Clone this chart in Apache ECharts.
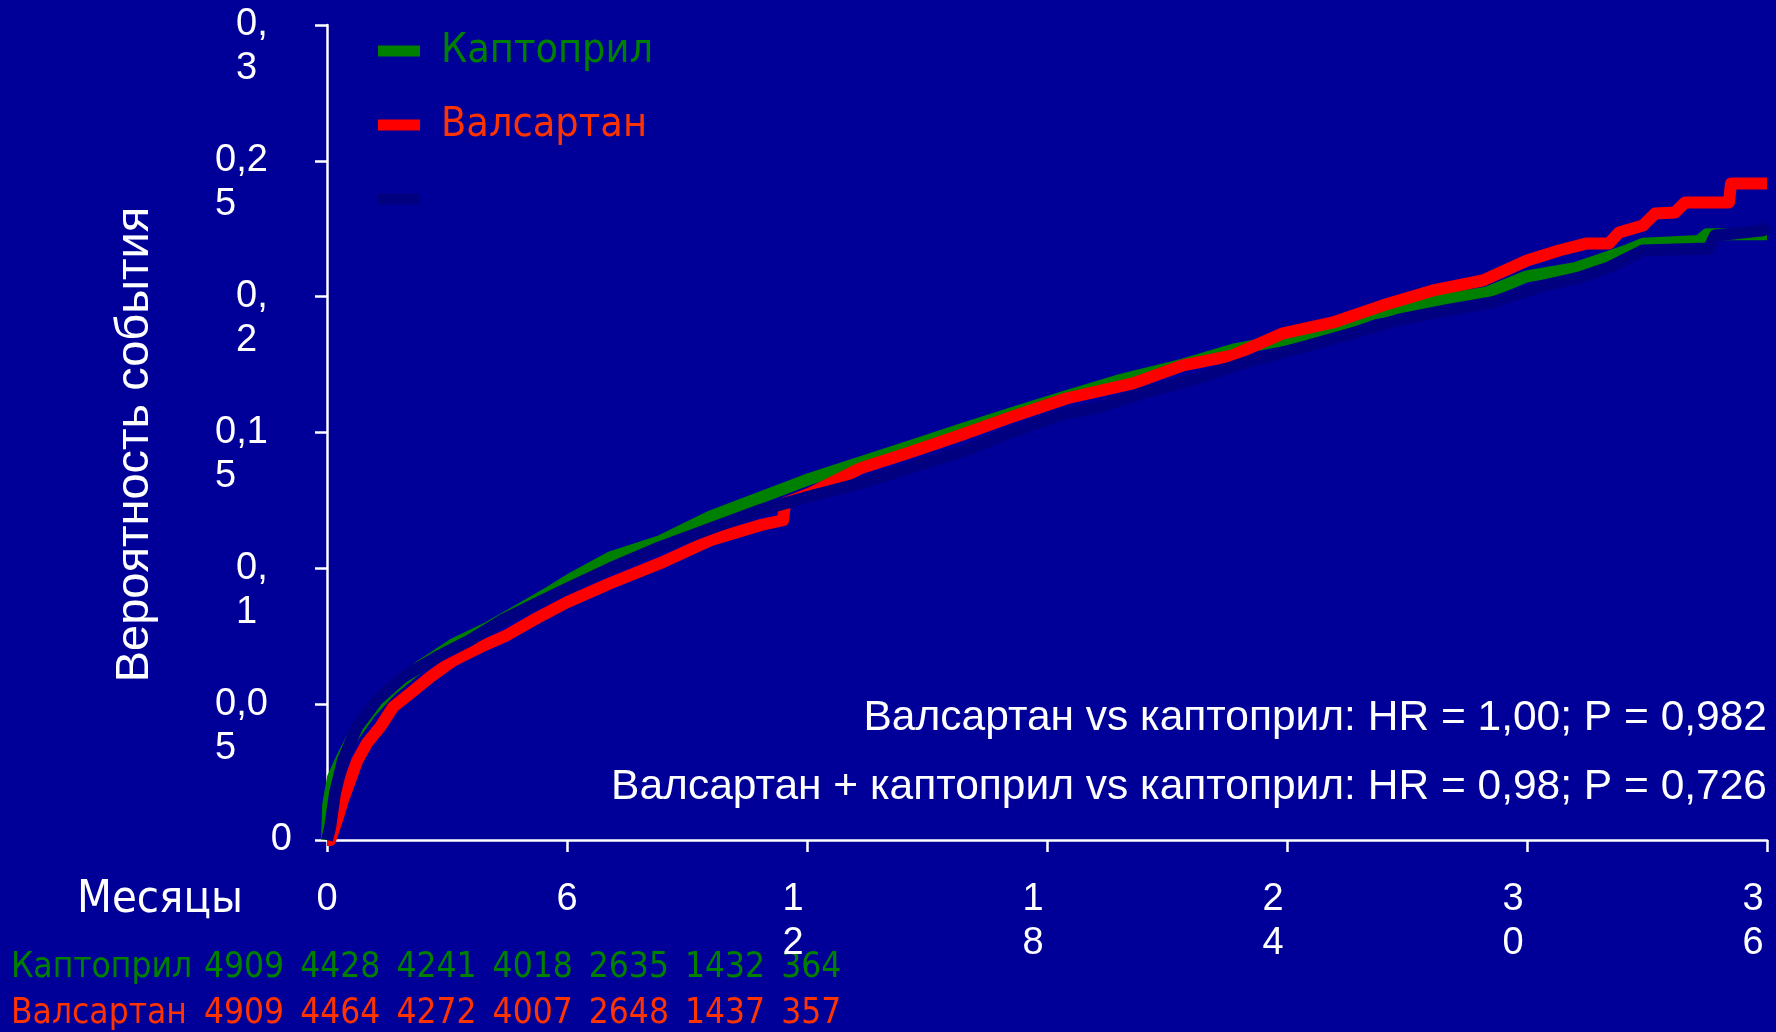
<!DOCTYPE html>
<html>
<head>
<meta charset="utf-8">
<script src="https://cdn.jsdelivr.net/npm/echarts@6/dist/echarts.min.js"></script>
<style>
html,body{margin:0;padding:0;background:#000099;}
#chart{width:1776px;height:1032px;}
</style>
</head>
<body>
<div id="chart"></div>
<script>
// ---------- DATA ----------
const seriesNames = ['Каптоприл', 'Валсартан', 'Валсартан + каптоприл'];

// [month, probability]
const captopril = [[0,0],[0.03,0.013],[0.15,0.023],[0.4,0.031],[0.65,0.038],[1.08,0.047],[1.58,0.055],[2.33,0.064],[3.15,0.072],[4.0,0.078],[4.83,0.085],[5.65,0.092],[6.08,0.096],[7.08,0.104],[8.33,0.110],[9.58,0.119],[10.83,0.126],[12.08,0.133],[13.33,0.139],[14.58,0.145],[15.83,0.151],[17.1,0.157],[18.4,0.163],[19.75,0.169],[21.4,0.175],[22.65,0.1805],[23.9,0.184],[25.15,0.1885],[26.2,0.194],[26.8,0.1955],[27.9,0.199],[29.0,0.2015],[30.0,0.2075],[31.2,0.2105],[31.9,0.214],[32.5,0.217],[32.9,0.2195],[34.3,0.2205],[34.5,0.223],[36,0.223]];

const valsartan = [[0,0],[0.08,0.0],[0.25,0.0074],[0.4,0.0147],[0.58,0.022],[0.75,0.029],[1.0,0.0357],[1.33,0.0416],[1.65,0.0489],[2.08,0.054],[2.58,0.060],[3.15,0.066],[3.83,0.071],[4.5,0.0754],[5.25,0.0817],[6.0,0.0875],[7.08,0.0945],[8.33,0.1019],[9.58,0.1103],[10.83,0.1159],[11.4,0.1177],[11.45,0.124],[12.08,0.1276],[13.33,0.1368],[14.58,0.1427],[15.83,0.149],[17.08,0.1556],[18.5,0.1626],[20.15,0.1681],[21.4,0.1747],[22.65,0.1784],[23.9,0.1865],[25.15,0.1905],[26.4,0.1968],[27.65,0.2023],[28.9,0.206],[30.0,0.2133],[30.8,0.217],[31.5,0.2196],[32.05,0.2196],[32.3,0.2236],[32.9,0.2262],[33.2,0.2306],[33.7,0.231],[33.95,0.2347],[35.05,0.2347],[35.1,0.2417],[36.0,0.2417]];

const combination = [[0,0],[0.08,0.0048],[0.2,0.0173],[0.4,0.0294],[0.75,0.0416],[1.25,0.0515],[1.9,0.060],[2.75,0.0673],[3.58,0.0736],[4.4,0.081],[5.25,0.0872],[6.0,0.0925],[7.08,0.100],[8.33,0.1078],[9.58,0.1146],[10.83,0.1214],[12.08,0.1265],[13.33,0.1313],[14.58,0.137],[15.83,0.1427],[17.08,0.150],[18.33,0.1565],[19.3,0.1593],[20.5,0.165],[21.8,0.170],[23.0,0.176],[24.3,0.181],[25.5,0.186],[26.8,0.1915],[28.0,0.195],[29.15,0.198],[30.4,0.204],[31.3,0.207],[32.05,0.2108],[32.9,0.217],[34.55,0.2177],[34.7,0.2225],[35.9,0.2244],[36,0.2265]];

const xTickLabels = ['0', '6', '1\n2', '1\n8', '2\n4', '3\n0', '3\n6'];
const yTickLabels = ['0', '0,0\n5', '0,\n1', '0,1\n5', '0,\n2', '0,2\n5', '0,\n3'];

const riskRowLabels = ['Каптоприл', 'Валсартан'];
const riskCaptopril = [4909, 4428, 4241, 4018, 2635, 1432, 364];
const riskValsartan = [4909, 4464, 4272, 4007, 2648, 1437, 357];

const yAxisTitle = 'Вероятность события';
const xAxisTitle = 'Месяцы';
const notes = ['Валсартан vs каптоприл: HR = 1,00; P = 0,982',
               'Валсартан + каптоприл vs каптоприл: HR = 0,98; P = 0,726'];

// ---------- STYLE ----------
const BG = '#000099';
const colors = ['#008000', '#FF0000', '#000080'];
const textColors = ['#008000', '#FF3300'];
const SANS = '"Liberation Sans", Arial, sans-serif';
const COND = '"DejaVu Sans Condensed", "DejaVu Sans", sans-serif';

const chart = echarts.init(document.getElementById('chart'), null, {renderer: 'canvas'});

function yLabel(v, idx) {
  const s = yTickLabels[idx];
  if (s === undefined) return '';
  const lines = s.split('\n');
  if (lines.length === 1) return '{z|' + lines[0] + '}';
  const st = lines[0].length > 2 ? 'w' : 'n';
  return '{' + st + '|}\n{' + st + '|' + lines[0] + '}\n{' + st + '|' + lines[1] + '}';
}

function xLabel(v) {
  const s = xTickLabels[Math.round(v / 6)];
  if (s === undefined) return '';
  const lines = s.split('\n');
  if (lines.length === 1) return '{s|' + s + '}';
  return lines.map(l => '{m|' + l + '}').join('\n');
}

const riskGraphics = [];
[riskCaptopril, riskValsartan].forEach((row, r) => {
  const y = 968 + r * 46;
  riskGraphics.push({
    type: 'text', x: 11, y: y,
    style: {text: riskRowLabels[r], fill: textColors[r], font: '35px ' + COND, verticalAlign: 'middle'}
  });
  row.forEach((n, i) => {
    riskGraphics.push({
      type: 'text', x: 204 + i * 96.2, y: y,
      style: {text: String(n), fill: textColors[r], font: '35px ' + COND, verticalAlign: 'middle'}
    });
  });
});

const labelStyle = {color: '#ffffff', fontFamily: SANS, fontSize: 38, lineHeight: 44};

const option = {
  backgroundColor: BG,
  animation: false,
  grid: {left: 327, right: 9, top: 25, bottom: 192, containLabel: false, outerBoundsMode: 'none'},
  legend: {
    orient: 'vertical',
    left: 373, top: 21,
    itemWidth: 42, itemHeight: 11, itemGap: 24,
    icon: 'rect',
    textStyle: {fontFamily: COND, fontSize: 41, lineHeight: 50, padding: [0, 0, 0, 16]},
    formatter: function (name) { return name === seriesNames[2] ? ' ' : name; },
    data: [
      {name: seriesNames[0], textStyle: {color: textColors[0]}},
      {name: seriesNames[1], textStyle: {color: textColors[1]}},
      {name: seriesNames[2], textStyle: {color: BG}}
    ]
  },
  xAxis: {
    type: 'value', min: 0, max: 36, interval: 6,
    axisLine: {show: true, lineStyle: {color: '#ffffff', width: 2.5}},
    axisTick: {show: true, length: 12, lineStyle: {color: '#ffffff', width: 2.5}},
    splitLine: {show: false},
    axisLabel: {
      color: '#ffffff', fontFamily: SANS, fontSize: 38, lineHeight: 44, margin: 38,
      formatter: xLabel,
      rich: {
        s: Object.assign({}, labelStyle),
        m: Object.assign({width: 49, align: 'left'}, labelStyle)
      }
    }
  },
  yAxis: {
    type: 'value', min: 0, max: 0.3, interval: 0.05,
    name: yAxisTitle, nameLocation: 'middle', nameRotate: 90, nameGap: 168,
    nameTextStyle: {color: '#ffffff', fontFamily: SANS, fontSize: 47, padding: [0, 24, 0, 0]},
    axisLine: {show: true, lineStyle: {color: '#ffffff', width: 2.5}},
    axisTick: {show: true, length: 12, lineStyle: {color: '#ffffff', width: 2.5}},
    splitLine: {show: false},
    axisLabel: {
      color: '#ffffff', fontFamily: SANS, fontSize: 38, margin: 35,
      formatter: function (v) { return yLabel(v, Math.round(v / 0.05)); },
      rich: {
        z: Object.assign({}, labelStyle),
        n: Object.assign({width: 56, align: 'left'}, labelStyle),
        w: Object.assign({width: 77, align: 'left'}, labelStyle)
      }
    }
  },
  series: [captopril, valsartan, combination].map((d, i) => ({
    name: seriesNames[i],
    type: 'line',
    data: d,
    showSymbol: false,
    symbol: 'none',
    z: 2 + i,
    itemStyle: {color: colors[i]},
    lineStyle: {color: colors[i], width: 12, join: 'round'}
  })),
  graphic: [
    {type: 'text', x: 77, y: 900, style: {text: xAxisTitle, fill: '#ffffff', font: '45px ' + COND, verticalAlign: 'middle'}},
    {type: 'text', x: 1767, y: 718, style: {text: notes[0], fill: '#ffffff', font: '42.5px ' + SANS, align: 'right', verticalAlign: 'middle'}},
    {type: 'text', x: 1767, y: 787, style: {text: notes[1], fill: '#ffffff', font: '42.5px ' + SANS, align: 'right', verticalAlign: 'middle'}}
  ].concat(riskGraphics)
};

chart.setOption(option);
</script>
</body>
</html>
